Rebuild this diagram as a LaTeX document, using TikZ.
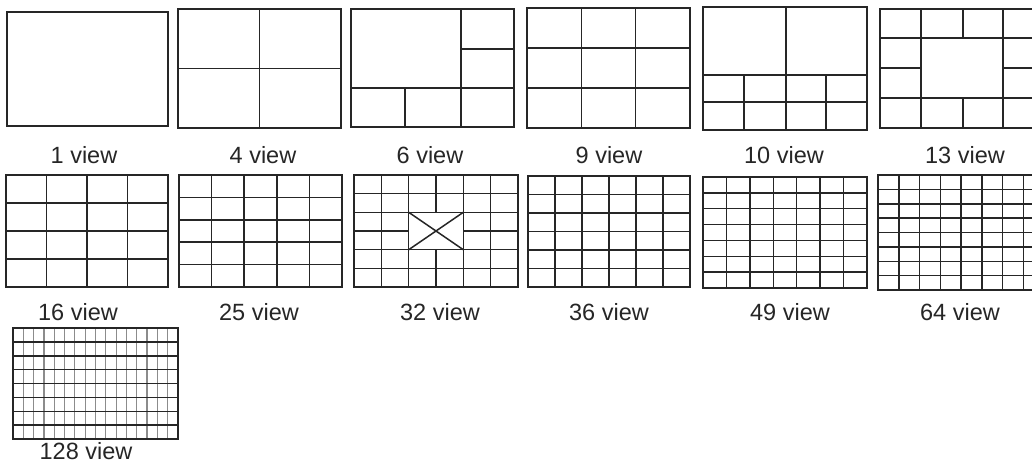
\documentclass[tikz,border=0pt]{standalone}
\usepackage{fontspec}
\setmainfont{Liberation Sans}
\tikzset{
  panel/.style={draw=black!85, line width=1.5pt},
  thinv/.style={draw=black!45, line width=1.2pt},
  lbl/.style={font=\fontsize{23.5}{28}\selectfont, text=black!85, inner sep=0pt, anchor=base}
}
% uniform grid: x0 y0 x1 y1 ncols nrows [vertical style]
\newcommand\myuniformgrid[7]{%
  \pgfmathtruncatemacro\myncm{#5-1}%
  \pgfmathtruncatemacro\mynrm{#6-1}%
  \foreach \i in {1,...,\myncm}{%
    \pgfmathsetmacro\xx{#1+(#3-#1)*\i/#5}%
    \draw[#7] (\xx,#2) -- (\xx,#4);}%
  \foreach \j in {1,...,\mynrm}{%
    \pgfmathsetmacro\yy{#2+(#4-#2)*\j/#6}%
    \draw[panel] (#1,\yy) -- (#3,\yy);}%
  \draw[panel] (#1,#2) rectangle (#3,#4);%
}
\begin{document}
\begin{tikzpicture}[x=1pt,y=-1pt]
\useasboundingbox (0,0) rectangle (1032,463);
\clip (0,0) rectangle (1032,463);
% 1 view
\draw[panel] (7,12) rectangle (168,126);
% 4 view
\myuniformgrid{178}{9}{341}{128}{2}{2}{panel}
% 6 view
\draw[panel] (461,9) -- (461,127);
\draw[panel] (351,88) -- (514,88);
\draw[panel] (405,88) -- (405,127);
\draw[panel] (461,49) -- (514,49);
\draw[panel] (351,9) rectangle (514,127);
% 9 view
\myuniformgrid{527}{8}{690}{128}{3}{3}{panel}
% 10 view
\draw[panel] (786,7) -- (786,130);
\draw[panel] (703,75) -- (867,75);
\draw[panel] (703,102) -- (867,102);
\draw[panel] (744,75) -- (744,130);
\draw[panel] (826,75) -- (826,130);
\draw[panel] (703,7) rectangle (867,130);
% 13 view
\draw[panel] (880,38) -- (1044,38);
\draw[panel] (880,98) -- (1044,98);
\foreach \xx in {921,963,1003}{
  \draw[panel] (\xx,9) -- (\xx,38);
  \draw[panel] (\xx,98) -- (\xx,128);}
\draw[panel] (921,38) -- (921,98);
\draw[panel] (1003,38) -- (1003,98);
\draw[panel] (880,68) -- (921,68);
\draw[panel] (1003,68) -- (1044,68);
\draw[panel] (880,9) rectangle (1044,128);
% 16 view
\myuniformgrid{6}{175}{168}{287}{4}{4}{panel}
% 25 view
\myuniformgrid{179}{175}{342}{287}{5}{5}{panel}
% 32 view
\foreach \k in {1,2,4,5}{
  \pgfmathsetmacro\xx{354+164*\k/6}
  \draw[panel] (\xx,175) -- (\xx,287);}
\draw[panel] (436,175) -- (436,212.3);
\draw[panel] (436,249.7) -- (436,287);
\foreach \k in {1,2,4,5}{
  \pgfmathsetmacro\yy{175+112*\k/6}
  \draw[panel] (354,\yy) -- (518,\yy);}
\draw[panel] (354,231) -- (408.7,231);
\draw[panel] (463.3,231) -- (518,231);
\draw[panel] (408.7,212.3) -- (463.3,249.7);
\draw[panel] (408.7,249.7) -- (463.3,212.3);
\draw[panel] (354,175) rectangle (518,287);
% 36 view
\myuniformgrid{528}{176}{690}{287}{6}{6}{panel}
% 49 view
\myuniformgrid{703}{177}{867}{288}{7}{7}{panel}
% 64 view
\myuniformgrid{878}{175}{1044}{290}{8}{8}{panel}
% 128 view
\myuniformgrid{13}{328}{178}{439}{16}{8}{thinv}
% labels
\node[lbl] (l1) at (84,163) {1 view};
\node[lbl] (l4) at (263,163) {4 view};
\node[lbl] (l6) at (430,163) {6 view};
\node[lbl] (l9) at (609,163) {9 view};
\node[lbl] (l10) at (784,163) {10 view};
\node[lbl] (l13) at (965,163) {13 view};
\node[lbl] (l16) at (78,320) {16 view};
\node[lbl] (l25) at (259,320) {25 view};
\node[lbl] (l32) at (440,320) {32 view};
\node[lbl] (l36) at (609,320) {36 view};
\node[lbl] (l49) at (790,320) {49 view};
\node[lbl] (l64) at (960,320) {64 view};
\node[lbl] (l128) at (86,459) {128 view};
\end{tikzpicture}
\end{document}
